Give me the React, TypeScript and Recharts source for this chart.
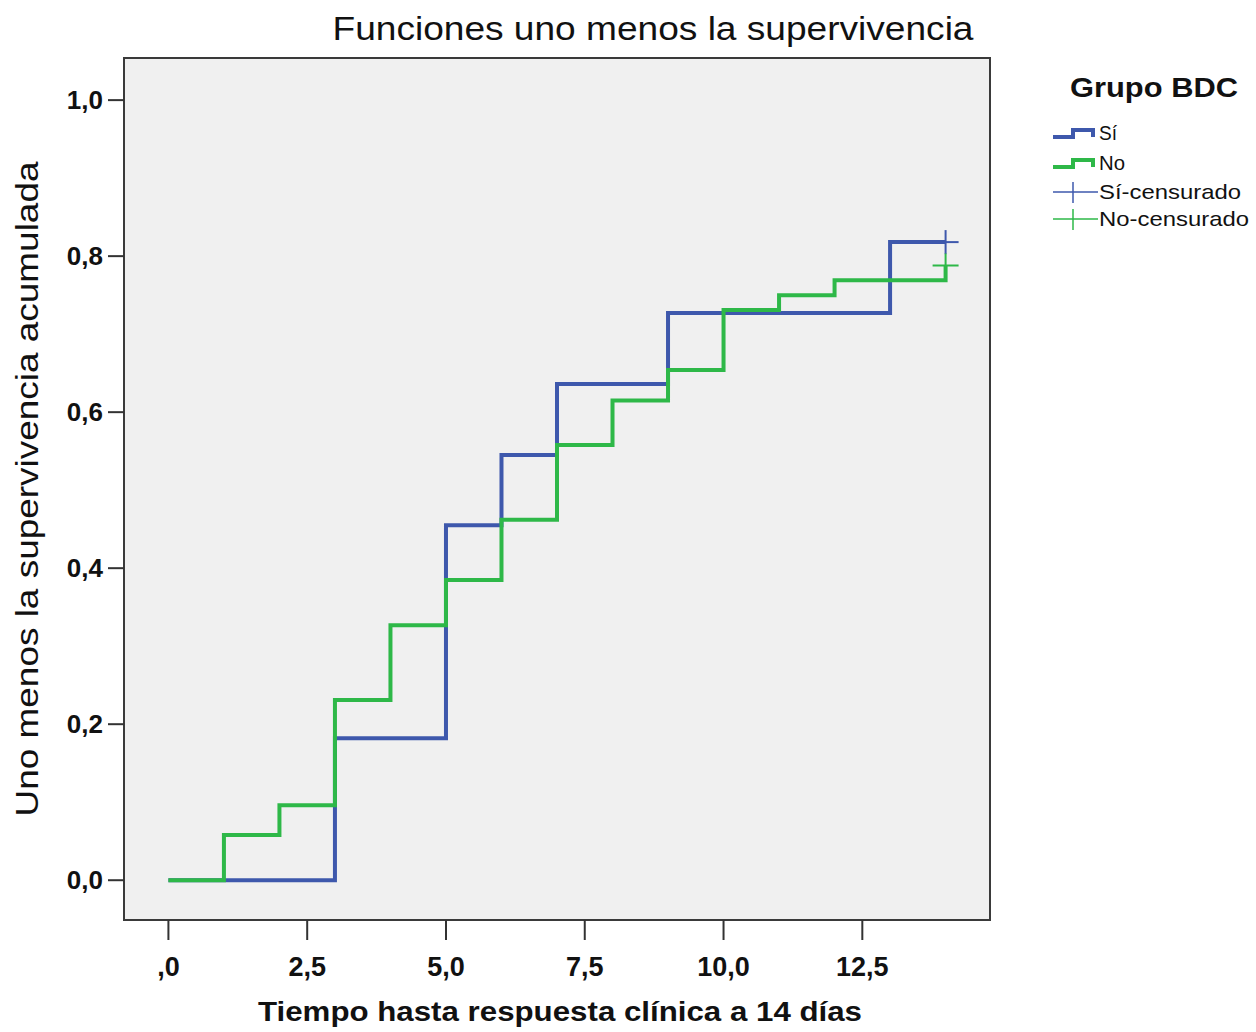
import { ComposedChart, Line, Scatter, XAxis, YAxis, CartesianGrid, ReferenceArea, Label } from 'recharts';

// Grupo BDC = Sí (n = 11)
const siTimes = [0, 3, 5, 6, 7, 9, 13, 14];
const siValues = [0, 0.182, 0.455, 0.545, 0.636, 0.727, 0.818, 0.818];
const siCensorTimes = [14];
const siCensorValues = [0.818];

// Grupo BDC = No (n = 52)
const noTimes = [0, 1, 2, 3, 4, 5, 6, 7, 8, 9, 10, 11, 12, 14];
const noValues = [0, 0.058, 0.096, 0.231, 0.327, 0.385, 0.462, 0.558, 0.615, 0.654, 0.731, 0.75, 0.769, 0.788];
const noCensorTimes = [14];
const noCensorValues = [0.788];

const xTicks = [0, 2.5, 5, 7.5, 10, 12.5];
const yTicks = [0, 0.2, 0.4, 0.6, 0.8, 1.0];
const legendTitle = 'Grupo BDC';
const legendLabels = ['Sí', 'No', 'Sí-censurado', 'No-censurado'];

const BLUE = '#3e58ac';
const GREEN = '#2eb848';
const FONT = '"Liberation Sans", Arial, sans-serif';
const X_DOMAIN: [number, number] = [-0.8, 14.8];
const Y_DOMAIN: [number, number] = [-0.051, 1.054];

const toRows = (t: number[], v: number[]) => t.map((x, i) => ({ t: x, v: v[i] }));
const siData = toRows(siTimes, siValues);
const noData = toRows(noTimes, noValues);
const siCensor = toRows(siCensorTimes, siCensorValues);
const noCensor = toRows(noCensorTimes, noCensorValues);

const fmtX = (v: number) => (v === 0 ? ',0' : v.toFixed(1).replace('.', ','));
const fmtY = (v: number) => v.toFixed(1).replace('.', ',');

const plus = (color: string) => (props: any) => {
  const { cx, cy } = props;
  return (
    <g>
      <line x1={cx - 13} x2={cx + 13} y1={cy} y2={cy} stroke={color} strokeWidth={2} />
      <line x1={cx} x2={cx} y1={cy - 12} y2={cy + 12} stroke={color} strokeWidth={2} />
    </g>
  );
};

const XTitle = (props: any) => {
  const { x, y, width } = props.viewBox;
  return (
    <text x={x + width / 2 + 3} y={y + 101} textAnchor="middle" fontFamily={FONT} fontWeight="bold"
      fontSize={27} fill="#111" textLength={604} lengthAdjust="spacingAndGlyphs">
      Tiempo hasta respuesta clínica a 14 días
    </text>
  );
};

const YTitle = (props: any) => {
  const { y, height } = props.viewBox;
  const cx = 27;
  const cy = y + height / 2;
  return (
    <text x={cx} y={cy} transform={`rotate(-90, ${cx}, ${cy})`} textAnchor="middle" dominantBaseline="central"
      fontFamily={FONT} fontSize={31} fill="#111" textLength={655} lengthAdjust="spacingAndGlyphs">
      Uno menos la supervivencia acumulada
    </text>
  );
};

function Overlay() {
  const base = [140, 170, 199, 226];
  const widths = [18, 26, 142, 150];
  return (
    <svg width={1256} height={1032} style={{ position: 'absolute', left: 0, top: 0, pointerEvents: 'none' }}>
      <text x={653} y={40} textAnchor="middle" fontFamily={FONT} fontSize={33} fill="#111"
        textLength={641} lengthAdjust="spacingAndGlyphs">
        Funciones uno menos la supervivencia
      </text>
      <text x={1070} y={97} fontFamily={FONT} fontWeight="bold" fontSize={27} fill="#111"
        textLength={168} lengthAdjust="spacingAndGlyphs">
        {legendTitle}
      </text>
      <path d={`M1053,${base[0] - 3} H1073 V${base[0] - 10} H1093 V${base[0] - 3}`} fill="none" stroke={BLUE} strokeWidth={4} />
      <path d={`M1053,${base[1] - 3} H1073 V${base[1] - 10} H1093 V${base[1] - 3}`} fill="none" stroke={GREEN} strokeWidth={4} />
      <line x1={1053} x2={1098} y1={base[2] - 7} y2={base[2] - 7} stroke={BLUE} strokeWidth={1.5} />
      <line x1={1073} x2={1073} y1={base[2] - 17} y2={base[2] + 4} stroke={BLUE} strokeWidth={1.5} />
      <line x1={1053} x2={1098} y1={base[3] - 7} y2={base[3] - 7} stroke={GREEN} strokeWidth={1.5} />
      <line x1={1073} x2={1073} y1={base[3] - 17} y2={base[3] + 4} stroke={GREEN} strokeWidth={1.5} />
      {legendLabels.map((lab, i) => (
        <text key={lab} x={1099} y={base[i]} fontFamily={FONT} fontSize={21} fill="#111"
          textLength={widths[i]} lengthAdjust="spacingAndGlyphs">
          {lab}
        </text>
      ))}
    </svg>
  );
}

export default function App() {
  return (
    <div style={{ position: 'absolute', left: 0, top: 0, width: 1256, height: 1032, background: '#fff' }}>
      <ComposedChart width={1256} height={1032} margin={{ top: 58, right: 266, bottom: 0, left: 0 }}>
        <CartesianGrid horizontal={false} vertical={false} fill="#f0f0f0" />
        <XAxis type="number" dataKey="t" domain={X_DOMAIN} ticks={xTicks} tickFormatter={fmtX}
          allowDataOverflow height={112} axisLine={false} tickSize={20} tickMargin={17}
          tickLine={{ stroke: '#333', strokeWidth: 2 }}
          tick={{ fill: '#111', fontFamily: FONT, fontWeight: 'bold', fontSize: 27 }}>
          <Label content={XTitle} />
        </XAxis>
        <YAxis type="number" dataKey="v" domain={Y_DOMAIN} ticks={yTicks} tickFormatter={fmtY}
          allowDataOverflow width={124} axisLine={false} tickSize={16} tickMargin={5}
          tickLine={{ stroke: '#333', strokeWidth: 2 }}
          tick={{ fill: '#111', fontFamily: FONT, fontWeight: 'bold', fontSize: 26 }}>
          <Label content={YTitle} />
        </YAxis>
        <Line data={siData} dataKey="v" type="stepAfter" stroke={BLUE} strokeWidth={4} dot={false}
          activeDot={false} isAnimationActive={false} />
        <Line data={noData} dataKey="v" type="stepAfter" stroke={GREEN} strokeWidth={4} dot={false}
          activeDot={false} isAnimationActive={false} />
        <Scatter data={siCensor} dataKey="v" shape={plus(BLUE)} isAnimationActive={false} />
        <Scatter data={noCensor} dataKey="v" shape={plus(GREEN)} isAnimationActive={false} />
        <ReferenceArea x1={X_DOMAIN[0]} x2={X_DOMAIN[1]} y1={Y_DOMAIN[0]} y2={Y_DOMAIN[1]}
          fill="none" fillOpacity={0} stroke="#3a3a3a" strokeWidth={2} />
      </ComposedChart>
      <Overlay />
    </div>
  );
}
